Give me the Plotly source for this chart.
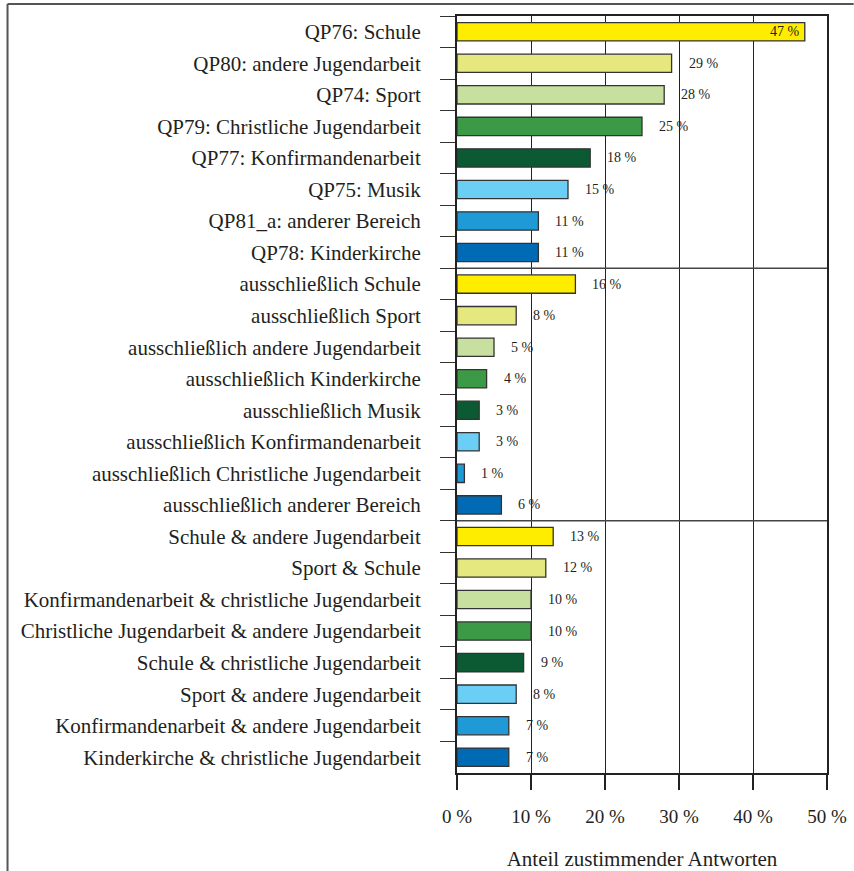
import plotly.graph_objects as go

categories = [
    "QP76: Schule", "QP80: andere Jugendarbeit", "QP74: Sport",
    "QP79: Christliche Jugendarbeit", "QP77: Konfirmandenarbeit", "QP75: Musik",
    "QP81_a: anderer Bereich", "QP78: Kinderkirche",
    "ausschließlich Schule", "ausschließlich Sport", "ausschließlich andere Jugendarbeit",
    "ausschließlich Kinderkirche", "ausschließlich Musik", "ausschließlich Konfirmandenarbeit",
    "ausschließlich Christliche Jugendarbeit", "ausschließlich anderer Bereich",
    "Schule & andere Jugendarbeit", "Sport & Schule",
    "Konfirmandenarbeit & christliche Jugendarbeit",
    "Christliche Jugendarbeit & andere Jugendarbeit",
    "Schule & christliche Jugendarbeit", "Sport & andere Jugendarbeit",
    "Konfirmandenarbeit & andere Jugendarbeit", "Kinderkirche & christliche Jugendarbeit",
]
values = [47, 29, 28, 25, 18, 15, 11, 11,
          16, 8, 5, 4, 3, 3, 1, 6,
          13, 12, 10, 10, 9, 8, 7, 7]
palette = ["#FFED00", "#E5E87E", "#C7E09F", "#3C9A46",
           "#0B5A33", "#6BCFF5", "#2099D7", "#006BB4"]
group_size = 8
x_ticks = [0, 10, 20, 30, 40, 50]
x_ticklabels = ["0 %", "10 %", "20 %", "30 %", "40 %", "50 %"]
x_title = "Anteil zustimmender Antworten"

colors = [palette[i % group_size] for i in range(len(categories))]
FONT = "Liberation Serif, Times New Roman, serif"
TXT = "#231F20"

fig = go.Figure(go.Bar(
    x=values, y=categories, orientation="h",
    marker=dict(color=colors, line=dict(color="#333333", width=1.3)),
    width=0.58, hoverinfo="x+y",
))

annotations = []
for c, v in zip(categories, values):
    inside = v > 44
    annotations.append(dict(
        x=v, y=c, xref="x", yref="y", text=f"{v} %", showarrow=False,
        xanchor="right" if inside else "left", xshift=-3 if inside else 15,
        font=dict(family=FONT, size=14, color=TXT),
    ))

W = 854 - 456.7 - 26.7
H = 772.7 - 16
def px_x(px):
    return (px - 456.7) / W
def px_y(py):
    return (772.7 - py) / H

shapes = []
for k in range(1, len(categories) // group_size):
    b = k * group_size - 0.5
    shapes.append(dict(type="line", xref="paper", yref="y", x0=0, x1=1, y0=b, y1=b,
                       line=dict(color="#444444", width=1.5)))
# outer frame lines (top and left)
shapes.append(dict(type="line", xref="paper", yref="paper",
                   x0=px_x(6.5), x1=px_x(854), y0=px_y(4), y1=px_y(4),
                   line=dict(color="#555555", width=2)))
shapes.append(dict(type="line", xref="paper", yref="paper",
                   x0=px_x(6.5), x1=px_x(6.5), y0=px_y(4), y1=px_y(871),
                   line=dict(color="#555555", width=2)))

fig.update_layout(
    width=854, height=871,
    margin=dict(l=456.7, r=26.7, t=16, b=98.3),
    plot_bgcolor="white", paper_bgcolor="white",
    showlegend=False, bargap=0.42,
    annotations=annotations, shapes=shapes,
    font=dict(family=FONT, color=TXT),
)
fig.update_xaxes(
    range=[0, 50], tickvals=x_ticks, ticktext=x_ticklabels,
    showgrid=True, gridcolor="#222222", gridwidth=1.3,
    showline=True, linecolor="#222222", linewidth=2, mirror=True,
    ticks="outside", ticklen=15, tickwidth=2, tickcolor="#222222",
    ticklabelstandoff=10, automargin=False,
    tickfont=dict(family=FONT, size=19, color=TXT),
    title=dict(text=x_title, font=dict(family=FONT, size=21, color=TXT), standoff=39),
    zeroline=False,
)
fig.update_yaxes(
    autorange="reversed", type="category", automargin=False,
    showline=True, linecolor="#222222", linewidth=2, mirror=True,
    ticks="outside", tickson="boundaries", ticklen=15, tickwidth=1.3, tickcolor="#333333",
    ticklabelstandoff=30,
    tickfont=dict(family=FONT, size=21, color=TXT),
    showgrid=False,
)

fig.write_html("out.html", post_script="document.body.style.margin='0';",
               config={"displayModeBar": False})
